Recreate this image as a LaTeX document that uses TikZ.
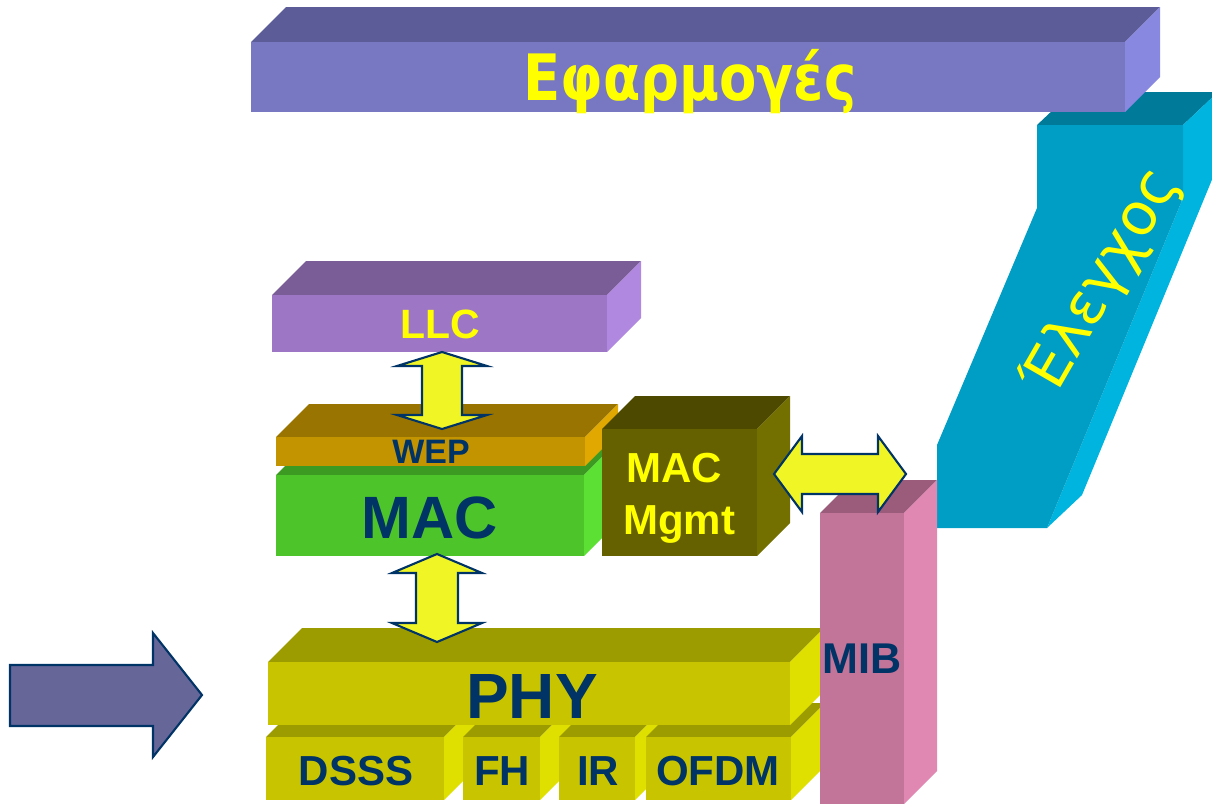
\documentclass[tikz,border=0pt]{standalone}
\usepackage{fontspec}
\setmainfont{Liberation Sans}
\newfontfamily\greekfont{DejaVu Sans}
\usetikzlibrary{calc}

\definecolor{navy}{HTML}{003366}
\definecolor{lemon}{HTML}{FFFF00}
\definecolor{arrowfill}{HTML}{F0F526}
\definecolor{ctrlTop}{HTML}{007A99}
\definecolor{ctrlSide}{HTML}{00B4E0}
\definecolor{ctrlFront}{HTML}{009DC4}
\definecolor{appsTop}{HTML}{5C5C99}
\definecolor{appsSide}{HTML}{8888E0}
\definecolor{appsFront}{HTML}{7777C2}
\definecolor{llcTop}{HTML}{7A5C96}
\definecolor{llcSide}{HTML}{B088E0}
\definecolor{llcFront}{HTML}{9D77C5}
\definecolor{macTop}{HTML}{3C9A22}
\definecolor{macSide}{HTML}{5CE034}
\definecolor{macFront}{HTML}{4DC42A}
\definecolor{wepTop}{HTML}{9A7400}
\definecolor{wepSide}{HTML}{E0A800}
\definecolor{wepFront}{HTML}{C49400}
\definecolor{mgmtTop}{HTML}{4D4A00}
\definecolor{mgmtSide}{HTML}{737000}
\definecolor{mgmtFront}{HTML}{666100}
\definecolor{phyTop}{HTML}{9C9C00}
\definecolor{phySide}{HTML}{E0E000}
\definecolor{phyFront}{HTML}{C8C400}
\definecolor{mibTop}{HTML}{9A5C7A}
\definecolor{mibSide}{HTML}{E088B2}
\definecolor{mibFront}{HTML}{C27499}
\definecolor{inputFill}{HTML}{666699}

% box with a top and a right face: x1, y1, x2, y2 (front face), depth, top, side, front
\newcommand{\slab}[8]{%
  \fill[#6] (#1,#2) -- ++(#5,-#5) -- (#3+#5,#2-#5) -- (#3,#2) -- cycle;
  \fill[#7] (#3,#2) -- ++(#5,-#5) -- (#3+#5,#4-#5) -- (#3,#4) -- cycle;
  \fill[#8] (#1,#2) rectangle (#3,#4);
}

\tikzset{
  navylbl/.style={text=navy, font=\bfseries, anchor=base, inner sep=0pt},
  yellbl/.style={text=lemon, font=\bfseries, anchor=base, inner sep=0pt},
  blockarrow/.style={fill=arrowfill, draw=navy, line width=1.2pt, line join=miter},
}

\begin{document}
\begin{tikzpicture}[x=0.02cm, y=-0.02cm]
    \useasboundingbox (0,0) rectangle (1212,808);

    % Control column
    \fill[ctrlTop] (1037,125) -- (1072,92) -- (1218,92) -- (1183,125) -- cycle;
    \fill[ctrlSide] (1183,125) -- (1218,92) -- (1218,165) -- (1082,495) -- (1047,528) -- (1183,198) -- cycle;
    \fill[ctrlFront] (1037,125) -- (1183,125) -- (1183,198) -- (1047,528) -- (937,528) -- (937,445) -- (1037,208) -- cycle;

    % Applications bar
    \slab{251}{42}{1125}{112}{35}{appsTop}{appsSide}{appsFront}

    % LLC, MAC, WEP and management
    \slab{272}{295}{607}{352}{34}{llcTop}{llcSide}{llcFront}
    \slab{276}{475}{584}{556}{33}{macTop}{macSide}{macFront}
    \slab{276}{437}{585}{466}{33}{wepTop}{wepSide}{wepFront}
    \slab{602}{429}{757}{556}{33}{mgmtTop}{mgmtSide}{mgmtFront}

    % LLC <-> WEP
    \coordinate (upTip) at (442,352);
    \coordinate (downTip) at (442,429);
    \draw[blockarrow] (upTip) -- ++(45,14) -- ++(-25,0) -- ($(downTip)+(20,-14)$) -- ++(25,0)
        -- (downTip) -- ++(-45,-14) -- ++(25,0) -- ($(upTip)+(-20,14)$) -- ++(-25,0) -- cycle;

    % Physical layer: sub layers first, then PHY over them
    \foreach \xa/\xb in {266/444, 463/540, 559/635, 646/791} {
        \slab{\xa}{737}{\xb}{800}{34}{phyTop}{phySide}{phyFront}
    }
    \slab{268}{662}{790}{725}{34}{phyTop}{phySide}{phyFront}

    % MAC <-> PHY
    \coordinate (upTip) at (437,554);
    \coordinate (downTip) at (437,642);
    \draw[blockarrow] (upTip) -- ++(45,19) -- ++(-24,0) -- ($(downTip)+(21,-19)$) -- ++(24,0)
        -- (downTip) -- ++(-45,-19) -- ++(24,0) -- ($(upTip)+(-21,19)$) -- ++(-24,0) -- cycle;

    % MIB
    \slab{820}{513}{904}{804}{33}{mibTop}{mibSide}{mibFront}

    % MAC Mgmt <-> MIB
    \coordinate (leftTip) at (774,474);
    \coordinate (rightTip) at (906,474);
    \draw[blockarrow] (leftTip) -- ++(28,-38) -- ++(0,18) -- ($(rightTip)+(-28,-20)$) -- ++(0,-18)
        -- (rightTip) -- ++(-28,38) -- ++(0,-18) -- ($(leftTip)+(28,20)$) -- ++(0,18) -- cycle;

    % Input arrow
    \draw[line width=1.2pt, draw=navy, fill=inputFill, line join=miter]
        (10,665) -- (153,665) -- (153,633) -- (202,695) -- (153,757) -- (153,726) -- (10,726) -- cycle;

    % Labels
    \node[yellbl, font=\greekfont\bfseries\fontsize{36.4}{40}\selectfont] (apps) at (690,100) {\scalebox{0.85}[1]{Εφαρμογές}};
    \node[yellbl, font=\greekfont\fontsize{33.5}{38}\selectfont, rotate=60] (ctrl) at (1117,290) {Έλεγχος};
    \node[yellbl, font=\bfseries\fontsize{23.3}{26}\selectfont] (llc) at (440,338) {LLC};
    \node[navylbl, font=\bfseries\fontsize{19.3}{22}\selectfont] (wep) at (431,463) {WEP};
    \node[navylbl, font=\bfseries\fontsize{34}{38}\selectfont] (mac) at (430,538) {MAC};
    \node[yellbl, font=\bfseries\fontsize{23.9}{27}\selectfont, anchor=base west] (mgmtA) at (626,482) {MAC};
    \node[yellbl, font=\bfseries\fontsize{23.9}{27}\selectfont, anchor=base west] (mgmtB) at (623,534) {Mgmt};
    \node[navylbl, font=\bfseries\fontsize{36.4}{40}\selectfont] (phy) at (532,718) {PHY};
    \node[navylbl, font=\bfseries\fontsize{24.5}{28}\selectfont] (mib) at (862,673) {MIB};
    \node[navylbl, font=\bfseries\fontsize{23.9}{27}\selectfont] (dsss) at (356,785) {DSSS};
    \node[navylbl, font=\bfseries\fontsize{23.9}{27}\selectfont] (fh) at (502,785) {FH};
    \node[navylbl, font=\bfseries\fontsize{23.9}{27}\selectfont] (ir) at (598,785) {IR};
    \node[navylbl, font=\bfseries\fontsize{23.9}{27}\selectfont] (ofdm) at (718,785) {OFDM};
\end{tikzpicture}
\end{document}
